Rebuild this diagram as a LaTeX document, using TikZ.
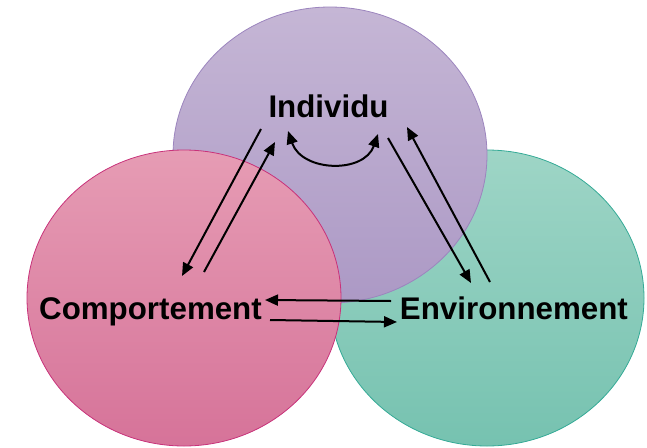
\documentclass[tikz,border=0pt]{standalone}
\usepackage{fontspec}
\setmainfont{Liberation Sans}
\usetikzlibrary{shapes.geometric,arrows.meta}
\definecolor{purTop}{HTML}{C5B6D5}
\definecolor{purBot}{HTML}{AC99C5}
\definecolor{purLine}{HTML}{9C85BE}
\definecolor{pinkTop}{HTML}{E69CB4}
\definecolor{pinkBot}{HTML}{D67399}
\definecolor{pinkLine}{HTML}{C8327A}
\definecolor{grnTop}{HTML}{9ED5C6}
\definecolor{grnBot}{HTML}{76C2B0}
\definecolor{grnLine}{HTML}{34AA96}
\begin{document}
\begin{tikzpicture}[x=1pt,y=-1pt,
  blob/.style={ellipse, minimum width=314pt, minimum height=296pt, inner sep=0pt, outer sep=0pt, line width=0.8pt},
  lbl/.style={font=\fontsize{31.3}{36}\selectfont\bfseries, inner sep=0pt, text=black},
  arr/.style={line width=2pt, -{Triangle[length=13pt,width=11pt]}},
  darr/.style={line width=2pt, {Triangle[length=13pt,width=11pt]}-{Triangle[length=13pt,width=11pt]}}]
\useasboundingbox (0,0) rectangle (647,447);
% circles
\node[blob, draw=grnLine, top color=grnTop, bottom color=grnBot] (env) at (487,298) {};
\node[blob, draw=purLine, top color=purTop, bottom color=purBot] (ind) at (330,155) {};
\node[blob, draw=pinkLine, top color=pinkTop, bottom color=pinkBot] (comp) at (184,298) {};
% labels
\node[lbl, anchor=base] (tInd) at (328.5,117) {Individu};
\node[lbl, anchor=base west] (tComp) at (39,319) {Comportement};
\node[lbl, anchor=base east] (tEnv) at (628,319) {Environnement};
% arrow ends
\coordinate (a1s) at (261,129); \coordinate (a1e) at (182,276);
\coordinate (a2s) at (204,272); \coordinate (a2e) at (275,142);
\coordinate (a3s) at (388,138); \coordinate (a3e) at (471,283);
\coordinate (a4s) at (490,282); \coordinate (a4e) at (407,127);
\coordinate (h1s) at (391,301); \coordinate (h1e) at (265,300);
\coordinate (h2s) at (270,320); \coordinate (h2e) at (397,322);
\coordinate (cu1) at (288,131); \coordinate (cu2) at (378,134);
% arrows
\draw[arr] (a1s) -- (a1e);
\draw[arr] (a2s) -- (a2e);
\draw[arr] (a3s) -- (a3e);
\draw[arr] (a4s) -- (a4e);
\draw[arr] (h1s) -- (h1e);
\draw[arr] (h2s) -- (h2e);
\draw[darr] (cu1) .. controls (302,172) and (364,174) .. (cu2);
\end{tikzpicture}
\end{document}
